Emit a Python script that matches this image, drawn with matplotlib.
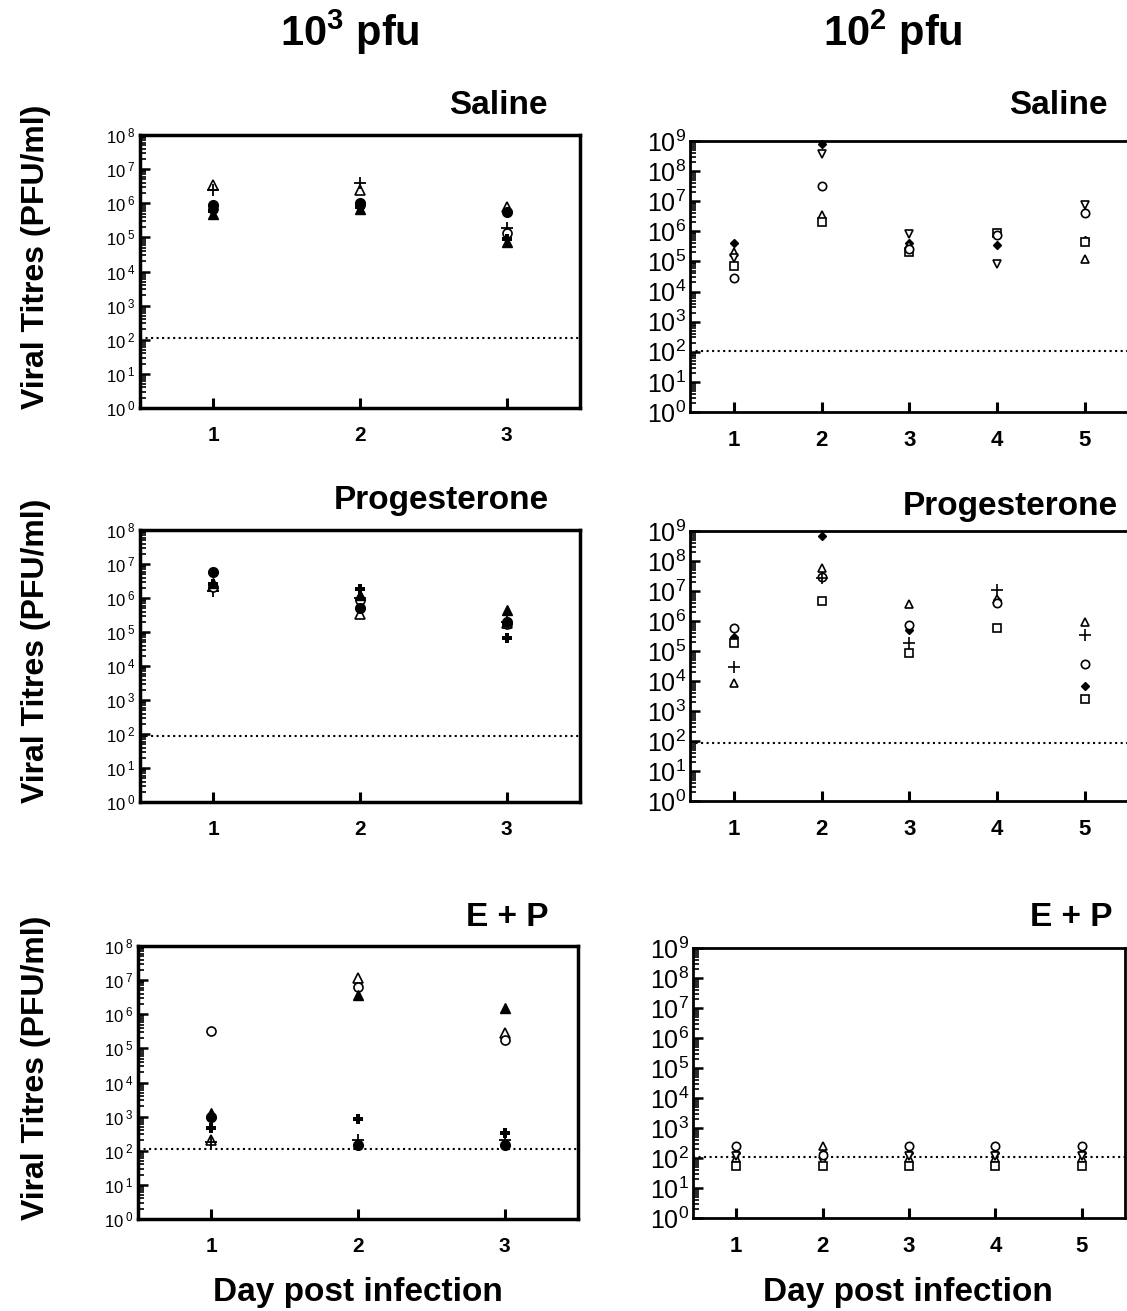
import matplotlib
matplotlib.use("Agg")
import matplotlib.pyplot as plt
import numpy as np
from matplotlib.ticker import LogLocator, NullFormatter

plt.rcParams['font.family'] = ['Liberation Sans', 'DejaVu Sans']
plt.rcParams['mathtext.fontset'] = 'custom'
plt.rcParams['mathtext.rm'] = 'Liberation Sans'
plt.rcParams['mathtext.bf'] = 'Liberation Sans:bold'
plt.rcParams['mathtext.it'] = 'Liberation Sans:italic'

nan = np.nan

days_3 = [1, 2, 3]
days_5 = [1, 2, 3, 4, 5]

# 10^3 pfu column, one row per animal:
# open triangle, thin cross, open circle, filled circle, filled triangle, bold cross
saline_1e3 = [
    [3.5e6, 2.5e6, 8.0e5],
    [2.5e6, 3.9e6, 1.9e5],
    [7.0e5, 9.0e5, 1.3e5],
    [9.0e5, 1.0e6, 5.5e5],
    [5.0e5, 7.0e5, 7.5e4],
    [6.0e5, 8.0e5, 9.0e4],
]
progesterone_1e3 = [
    [2.3e6, 3.5e5, 1.8e5],
    [1.6e6, 1.0e6, 2.0e5],
    [2.1e6, 8.7e5, 1.7e5],
    [5.9e6, 5.0e5, 2.0e5],
    [2.7e6, 1.2e6, 4.4e5],
    [2.5e6, 1.9e6, 6.5e4],
]
ep_1e3 = [
    [2.0e2, 1.15e7, 2.8e5],
    [1.8e2, 2.0e2, 2.1e2],
    [3.3e5, 6.2e6, 1.8e5],
    [9.6e2, 1.5e2, 1.5e2],
    [1.26e3, 3.7e6, 1.5e6],
    [4.6e2, 8.4e2, 3.4e2],
]

# 10^2 pfu column, one row per animal:
# filled diamond, open triangle, open inverted triangle, open square, open circle, cross
saline_1e2 = [
    [4.0e5, 7.8e8, 4.0e5, 3.5e5, 5.2e5],
    [2.0e5, 3.5e6, 3.5e5, 9.0e5, 1.2e5],
    [1.3e5, 3.6e8, 8.0e5, 8.0e4, 7.5e6],
    [7.0e4, 2.0e6, 2.1e5, 8.7e5, 4.4e5],
    [2.9e4, 3.3e7, 2.6e5, 7.6e5, 4.0e6],
    [nan, nan, nan, nan, nan],
]
progesterone_1e2 = [
    [3.0e5, 6.8e8, 5.0e5, 5.0e6, 6.8e3],
    [8.4e3, 5.7e7, 3.7e6, 5.5e6, 9.0e5],
    [nan, nan, nan, nan, nan],
    [1.8e5, 4.6e6, 8.8e4, 5.7e5, 2.5e3],
    [6.0e5, 3.0e7, 7.4e5, 3.9e6, 3.6e4],
    [3.0e4, 2.8e7, 1.9e5, 1.07e7, 3.4e5],
]
ep_1e2 = [
    [150, 150, 150, 150, 150],
    [100, 250, 100, 100, 100],
    [120, 80, 120, 120, 120],
    [55, 55, 55, 55, 55],
    [250, 130, 250, 250, 250],
    [nan, nan, nan, nan, nan],
]

lod_left = [115, 85, 110]
lod_right = [107, 85, 110]

left_styles = [
    dict(marker='^', mfc='white', ms=6.5, mew=1.2),
    dict(marker='+', ms=8, mew=1.3),
    dict(marker='o', mfc='white', ms=6.5, mew=1.2),
    dict(marker='o', mfc='black', ms=7),
    dict(marker='^', mfc='black', ms=6.5),
    dict(marker='P', mfc='black', ms=6.5, mew=0),
]
right_styles = [
    dict(marker='D', mfc='black', ms=4.5),
    dict(marker='^', mfc='white', ms=6, mew=1.2),
    dict(marker='v', mfc='white', ms=6, mew=1.2),
    dict(marker='s', mfc='white', ms=6, mew=1.2),
    dict(marker='o', mfc='white', ms=6, mew=1.2),
    dict(marker='+', ms=8, mew=1.2),
]

W, H = 1127, 1311
fig = plt.figure(figsize=(W / 100, H / 100), dpi=100)


def px_axes(x0, y0, x1, y1):
    return fig.add_axes([x0 / W, 1 - y1 / H, (x1 - x0) / W, (y1 - y0) / H])


def draw_panel(ax, days, data, styles, lod, top_exp, xmax, ytick_size, xtick_size, spine_w, sup_gap):
    for vals, st in zip(data, styles):
        ax.plot(days, vals, linestyle='none', color='black', mec='black',
                clip_on=False, zorder=3, **st)
    ax.axhline(lod, linestyle=':', color='black', lw=1.5, zorder=2)
    ax.set_yscale('log')
    ax.set_ylim(1, 10 ** top_exp)
    ax.set_xlim(0.5, xmax)
    ax.set_yticks([10 ** k for k in range(top_exp + 1)])
    ax.set_yticklabels([rf'$10^{{{sup_gap}{k}}}$' for k in range(top_exp + 1)], fontsize=ytick_size)
    ax.yaxis.set_minor_locator(LogLocator(base=10, subs=np.arange(2, 10), numticks=20))
    ax.yaxis.set_minor_formatter(NullFormatter())
    ax.set_xticks(days)
    ax.set_xticklabels([str(d) for d in days], fontsize=xtick_size, fontweight='bold')
    ax.tick_params(axis='y', which='major', direction='in', length=7, width=1.8, pad=3)
    ax.tick_params(axis='y', which='minor', direction='in', length=4, width=1.2)
    ax.tick_params(axis='x', which='major', direction='in', length=7, width=2.2, pad=13)
    ax.tick_params(axis='x', which='minor', bottom=False)
    for sp in ax.spines.values():
        sp.set_linewidth(spine_w)


left_boxes = [(140, 135, 580, 408), (140, 530, 580, 802), (138, 946, 578, 1219)]
right_boxes = [(690, 141, 1133, 412), (690, 531, 1133, 801), (693, 948, 1125, 1218)]
right_xmax = [5.55, 5.55, 5.5]
left_data = [saline_1e3, progesterone_1e3, ep_1e3]
right_data = [saline_1e2, progesterone_1e2, ep_1e2]

for i in range(3):
    axl = px_axes(*left_boxes[i])
    draw_panel(axl, days_3, left_data[i], left_styles, lod_left[i], 8, 3.5, 12, 15, 2.5, r'\ ')
    axr = px_axes(*right_boxes[i])
    draw_panel(axr, days_5, right_data[i], right_styles, lod_right[i], 9, right_xmax[i], 18, 16, 2.0, '')

# column headers
fig.text(350 / W, 1 - 32 / H, r'$\mathbf{10^{3}}$ pfu', fontsize=30, fontweight='bold',
         ha='center', va='center')
fig.text(893 / W, 1 - 32 / H, r'$\mathbf{10^{2}}$ pfu', fontsize=30, fontweight='bold',
         ha='center', va='center')

# panel titles
titles = ['Saline', 'Progesterone', 'E + P']
left_title_pos = [(548, 106), (549, 500), (548, 918)]
right_title_pos = [(1108, 106), (1118, 507), (1112, 918)]
for t, (x, y) in zip(titles, left_title_pos):
    fig.text(x / W, 1 - y / H, t, fontsize=24, fontweight='bold', ha='right', va='center')
for t, (x, y) in zip(titles, right_title_pos):
    fig.text(x / W, 1 - y / H, t, fontsize=24, fontweight='bold', ha='right', va='center')

# y labels
for (x0, y0, x1, y1) in left_boxes:
    fig.text(36 / W, 1 - ((y0 + y1) / 2 - 15) / H, 'Viral Titres (PFU/ml)', rotation=90,
             fontsize=23, fontweight='bold', ha='center', va='center')

# x labels
fig.text(358 / W, 1 - 1292 / H, 'Day post infection', fontsize=24, fontweight='bold',
         ha='center', va='center')
fig.text(908 / W, 1 - 1292 / H, 'Day post infection', fontsize=24, fontweight='bold',
         ha='center', va='center')

fig.savefig('out.png', dpi=100)
